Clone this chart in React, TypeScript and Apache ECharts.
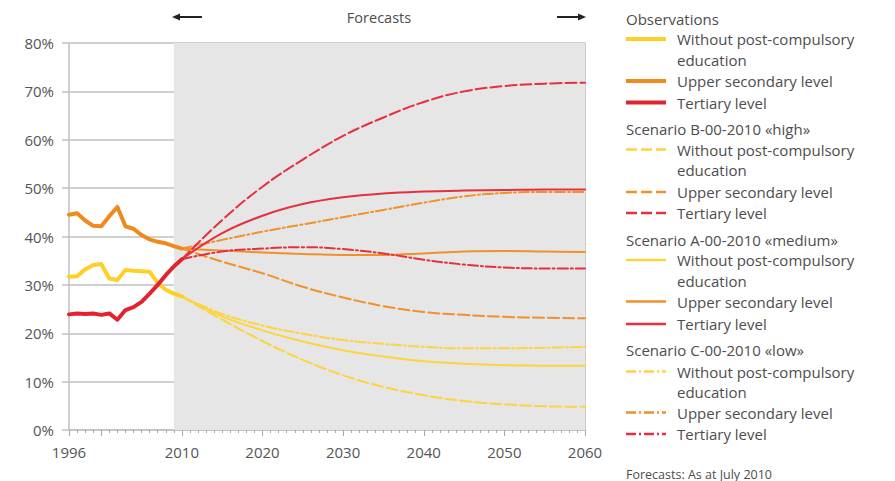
import React, { useEffect, useRef } from 'react';
import * as echarts from 'echarts';

const FONT = '"Open Sans", "Noto Sans", sans-serif';

const obsYears = [1996, 1997, 1998, 1999, 2000, 2001, 2002, 2003, 2004, 2005, 2006, 2007, 2008, 2009, 2010];
const obsWithout = [31.7, 31.8, 33.2, 34.1, 34.3, 31.3, 31.0, 33.1, 32.9, 32.8, 32.7, 30.4, 29.0, 28.2, 27.6];
const obsUpper = [44.5, 44.8, 43.3, 42.2, 42.1, 44.2, 46.1, 42.1, 41.6, 40.3, 39.4, 38.9, 38.6, 38.0, 37.5];
const obsTertiary = [23.9, 24.1, 24.0, 24.1, 23.8, 24.1, 22.8, 24.8, 25.4, 26.5, 28.2, 30.0, 32.0, 33.8, 35.3];

const fcYears = [2010, 2015, 2020, 2025, 2030, 2035, 2040, 2045, 2050, 2055, 2060];
const highWithout = [27.6, 22.8, 18.4, 14.5, 11.3, 8.9, 7.2, 6.0, 5.3, 4.9, 4.8];
const highUpper = [37.5, 34.8, 32.4, 29.6, 27.4, 25.6, 24.4, 23.8, 23.4, 23.2, 23.1];
const highTertiary = [35.3, 43.4, 50.3, 55.9, 60.8, 64.6, 67.8, 70.0, 71.1, 71.6, 71.8];
const medWithout = [27.6, 23.5, 20.6, 18.3, 16.5, 15.2, 14.2, 13.7, 13.4, 13.3, 13.3];
const medUpper = [37.5, 37.1, 36.7, 36.4, 36.2, 36.2, 36.5, 36.9, 37.0, 36.9, 36.8];
const medTertiary = [35.3, 40.7, 44.3, 46.7, 48.1, 48.9, 49.3, 49.5, 49.6, 49.7, 49.7];
const lowWithout = [27.6, 24.0, 21.6, 19.9, 18.6, 17.8, 17.2, 16.9, 16.9, 17.0, 17.2];
const lowUpper = [37.5, 39.3, 41.0, 42.5, 44.0, 45.5, 47.0, 48.3, 49.0, 49.2, 49.2];
const lowTertiary = [35.3, 36.9, 37.5, 37.8, 37.4, 36.5, 35.2, 34.2, 33.6, 33.4, 33.4];

const xLabelYears = [1996, 2010, 2020, 2030, 2040, 2050, 2060];
const xMajorTickYears = [1996, 2000, 2010, 2020, 2030, 2040, 2050, 2060];
const forecastStart = 2009;
const forecastEnd = 2060;

const YELLOW = '#FFCF26';
const ORANGE = '#EF8A1E';
const RED = '#E4222F';
const YELLOW_F = '#FDD43E';
const ORANGE_F = '#F0912B';
const RED_F = '#E5303D';

const DASH = [11, 4];
const DASHDOT = [10, 3, 2, 3];

const pairs = (xs: number[], ys: number[]) => xs.map((x, i) => [x, ys[i]]);

const TEXT = '#4d4d4d';

function legendGraphics() {
  const els: any[] = [];
  const x0 = 626;
  const header = (text: string, y: number) =>
    els.push({
      type: 'text',
      x: x0,
      y,
      style: { text, fill: TEXT, font: `15px ${FONT}`, verticalAlign: 'middle' },
    });
  const item = (lines: string[], y: number, color: string, width: number, dash: number[] | null) => {
    els.push({
      type: 'line',
      shape: { x1: x0, y1: y, x2: x0 + 40, y2: y },
      style: { stroke: color, lineWidth: width, lineDash: dash || undefined },
    });
    lines.forEach((t, i) =>
      els.push({
        type: 'text',
        x: 677,
        y: y + i * 20.7,
        style: { text: t, fill: TEXT, font: `15px ${FONT}`, verticalAlign: 'middle' },
      })
    );
  };
  const W = ['Without post-compulsory', 'education'];
  header('Observations', 19);
  item(W, 39, YELLOW, 4, null);
  item(['Upper secondary level'], 81, ORANGE, 4, null);
  item(['Tertiary level'], 102.5, RED, 4, null);
  header('Scenario B-00-2010 «high»', 128.5);
  item(W, 149.5, YELLOW_F, 2.5, DASH);
  item(['Upper secondary level'], 192, ORANGE_F, 2.5, DASH);
  item(['Tertiary level'], 213, RED_F, 2.5, DASH);
  header('Scenario A-00-2010 «medium»', 240);
  item(W, 260, YELLOW_F, 2.5, null);
  item(['Upper secondary level'], 301.5, ORANGE_F, 2.5, null);
  item(['Tertiary level'], 324, RED_F, 2.5, null);
  header('Scenario C-00-2010 «low»', 349.5);
  item(W, 371.5, YELLOW_F, 2.5, DASHDOT);
  item(['Upper secondary level'], 412.5, ORANGE_F, 2.5, DASHDOT);
  item(['Tertiary level'], 434, RED_F, 2.5, DASHDOT);
  els.push({
    type: 'text',
    x: x0,
    y: 474,
    style: { text: 'Forecasts: As at July 2010', fill: TEXT, font: `12.5px ${FONT}`, verticalAlign: 'middle' },
  });
  els.push({
    type: 'text',
    x: 379,
    y: 17,
    style: { text: 'Forecasts', fill: TEXT, font: `14.5px ${FONT}`, align: 'center', verticalAlign: 'middle' },
  });
  els.push({ type: 'line', shape: { x1: 178, y1: 17, x2: 202, y2: 17 }, style: { stroke: '#222', lineWidth: 2 } });
  els.push({ type: 'polygon', shape: { points: [[172, 17], [180, 13.5], [180, 20.5]] }, style: { fill: '#222' } });
  els.push({ type: 'line', shape: { x1: 557, y1: 17, x2: 580, y2: 17 }, style: { stroke: '#222', lineWidth: 2 } });
  els.push({ type: 'polygon', shape: { points: [[586, 17], [578, 13.5], [578, 20.5]] }, style: { fill: '#222' } });
  return els;
}

function line(name: string, xs: number[], ys: number[], color: string, width: number, dash: any, z = 3) {
  return {
    name,
    type: 'line',
    data: pairs(xs, ys),
    showSymbol: false,
    symbol: 'none',
    smooth: 0.4,
    lineStyle: { color, width, type: dash, cap: 'round', join: 'round' },
    z,
    silent: true,
  };
}

export default function App() {
  const ref = useRef<HTMLDivElement>(null);
  useEffect(() => {
    document.body.style.margin = '0';
    const chart = echarts.init(ref.current!, null, { renderer: 'svg' });
    const axisColor = '#c0c0c0';
    const option: any = {
      animation: false,
      backgroundColor: '#ffffff',
      textStyle: { fontFamily: FONT },
      grid: { left: 69, right: 310, top: 43, bottom: 51, containLabel: false },
      xAxis: [
        {
          type: 'value',
          min: 1996,
          max: 2060,
          interval: 1,
          axisLine: { show: true, lineStyle: { color: axisColor, width: 1.5 } },
          axisTick: { show: true, length: 3, lineStyle: { color: '#a8a8a8' } },
          axisLabel: {
            customValues: xLabelYears,
            formatter: (v: number) => String(v),
            fontSize: 15,
            color: '#555',
            fontFamily: FONT,
            margin: 14,
          },
          splitLine: { show: false },
        },
        {
          type: 'value',
          min: 1996,
          max: 2060,
          position: 'bottom',
          axisLine: { show: false },
          axisTick: { show: true, length: 6, customValues: xMajorTickYears, lineStyle: { color: '#a8a8a8' } },
          axisLabel: { show: false },
          splitLine: { show: false },
        },
      ],
      yAxis: [
        {
          type: 'value',
          min: 0,
          max: 80,
          interval: 10,
          axisLine: { show: true, lineStyle: { color: axisColor, width: 1.5 } },
          axisTick: { show: true, length: 7, lineStyle: { color: axisColor, width: 1.5 } },
          axisLabel: { formatter: '{value}%', fontSize: 15, color: '#555', fontFamily: FONT, margin: 15 },
          splitLine: { show: true, lineStyle: { color: axisColor, width: 1.5 } },
        },
        {
          type: 'value',
          min: 0,
          max: 80,
          interval: 10,
          position: 'right',
          axisLine: { show: true, lineStyle: { color: '#cfcfcf', width: 2 } },
          axisTick: { show: false },
          axisLabel: { show: false },
          splitLine: { show: false },
        },
      ],
      graphic: legendGraphics(),
      series: [
        {
          name: 'forecast-area',
          type: 'line',
          data: [],
          z: -1,
          silent: true,
          markArea: {
            silent: true,
            itemStyle: { color: '#e6e6e6' },
            data: [[{ xAxis: forecastStart }, { xAxis: forecastEnd }]],
          },
        },
        line('B without', fcYears, highWithout, YELLOW_F, 2, DASH),
        line('A without', fcYears, medWithout, YELLOW_F, 2, 'solid'),
        line('C without', fcYears, lowWithout, YELLOW_F, 2, DASHDOT),
        line('B upper', fcYears, highUpper, ORANGE_F, 2, DASH),
        line('A upper', fcYears, medUpper, ORANGE_F, 2, 'solid'),
        line('C upper', fcYears, lowUpper, ORANGE_F, 2, DASHDOT),
        line('B tertiary', fcYears, highTertiary, RED_F, 2, DASH),
        line('A tertiary', fcYears, medTertiary, RED_F, 2, 'solid'),
        line('C tertiary', fcYears, lowTertiary, RED_F, 2, DASHDOT),
        { ...line('Obs without', obsYears, obsWithout, YELLOW, 4, 'solid', 4), smooth: false },
        { ...line('Obs upper', obsYears, obsUpper, ORANGE, 4, 'solid', 4), smooth: false },
        { ...line('Obs tertiary', obsYears, obsTertiary, RED, 4, 'solid', 4), smooth: false },
      ],
    };
    chart.setOption(option);
    return () => chart.dispose();
  }, []);
  return <div ref={ref} style={{ width: 895, height: 481 }} />;
}
